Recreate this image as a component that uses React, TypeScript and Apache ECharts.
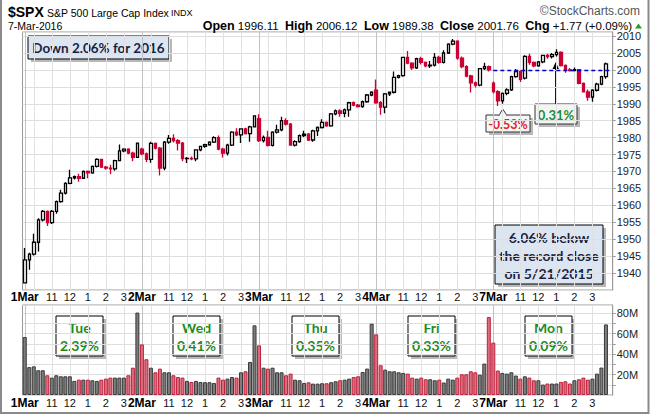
import React, { useEffect, useRef } from 'react';
import * as echarts from 'echarts';

// ---------- data ----------
const dayLabels = ['1Mar', '2Mar', '3Mar', '4Mar', '7Mar'];
const barTimes = ['9:30', '9:45', '10:00', '10:15', '10:30', '10:45', '11:00', '11:15', '11:30', '11:45', '12:00', '12:15', '12:30', '12:45', '13:00', '13:15', '13:30', '13:45', '14:00', '14:15', '14:30', '14:45', '15:00', '15:15', '15:30', '15:45'];
const hourTickLabels: Record<string, string> = { '11:00': '11', '12:00': '12', '13:00': '1', '14:00': '2', '15:00': '3' };
const gridTimes = ['9:30', '10:00', '11:00', '12:00', '13:00', '14:00', '15:00'];

// 15-minute bars: [open, high, low, close]
const mar1 = [
  [1937.09, 1947.4, 1937.09, 1943.9], [1943.9, 1946.0, 1941.0, 1945.6], [1945.6, 1951.6, 1945.2, 1949.1], [1949.1, 1956.2, 1946.4, 1955.7],
  [1955.7, 1958.6, 1955.2, 1958.2], [1958.2, 1958.5, 1953.9, 1954.9], [1954.9, 1958.6, 1954.5, 1958.2], [1958.2, 1961.4, 1957.5, 1961.1],
  [1961.1, 1964.6, 1960.8, 1963.6], [1963.6, 1966.8, 1963.2, 1966.5], [1966.5, 1970.5, 1966.2, 1968.1], [1968.1, 1968.8, 1967.6, 1968.5],
  [1968.5, 1969.3, 1967.0, 1968.0], [1968.0, 1970.3, 1967.8, 1970.0], [1970.0, 1970.3, 1968.0, 1969.6], [1969.6, 1971.8, 1969.3, 1971.5],
  [1971.5, 1973.9, 1971.2, 1973.6], [1973.6, 1973.8, 1971.0, 1971.3], [1971.3, 1971.6, 1970.5, 1971.0], [1971.0, 1972.0, 1969.2, 1970.8],
  [1970.8, 1973.5, 1970.2, 1973.2], [1973.2, 1978.0, 1973.0, 1976.1], [1976.1, 1976.9, 1975.7, 1976.6], [1976.6, 1976.9, 1975.1, 1975.4],
  [1975.4, 1975.8, 1973.0, 1974.2], [1974.2, 1978.35, 1974.0, 1978.35],
];
const mar2 = [
  [1976.6, 1977.0, 1974.8, 1975.2], [1975.2, 1975.6, 1972.8, 1973.6], [1973.6, 1978.8, 1972.6, 1978.3], [1978.3, 1978.6, 1976.5, 1976.9],
  [1976.9, 1977.2, 1968.8, 1971.0], [1971.0, 1979.0, 1970.4, 1978.7], [1978.7, 1980.8, 1978.2, 1979.8], [1979.8, 1981.0, 1978.6, 1979.1],
  [1979.1, 1979.6, 1976.2, 1978.4], [1978.4, 1978.7, 1973.0, 1973.8], [1973.8, 1974.3, 1972.5, 1973.9], [1973.9, 1974.4, 1973.3, 1973.7],
  [1973.7, 1976.6, 1973.0, 1976.4], [1976.4, 1977.5, 1976.0, 1977.4], [1977.4, 1978.2, 1977.0, 1977.9], [1977.9, 1978.9, 1977.6, 1978.7],
  [1978.7, 1980.4, 1978.4, 1980.0], [1980.0, 1980.6, 1976.3, 1976.6], [1976.6, 1977.0, 1974.1, 1975.4], [1975.4, 1978.2, 1974.7, 1977.8],
  [1977.8, 1981.9, 1977.5, 1981.6], [1981.6, 1982.8, 1980.5, 1980.8], [1980.8, 1982.8, 1978.4, 1982.6], [1982.6, 1982.9, 1980.9, 1981.2],
  [1981.2, 1983.5, 1978.8, 1983.2], [1983.2, 1986.51, 1983.0, 1986.45],
];
const mar3 = [
  [1985.6, 1986.9, 1978.7, 1979.1], [1979.1, 1980.6, 1978.6, 1980.1], [1980.1, 1982.0, 1977.37, 1977.7], [1977.7, 1981.9, 1977.4, 1981.6],
  [1981.6, 1983.8, 1981.2, 1982.3], [1982.3, 1986.2, 1981.9, 1985.0], [1985.0, 1985.7, 1983.6, 1984.0], [1984.0, 1984.3, 1977.6, 1977.8],
  [1977.8, 1979.2, 1977.4, 1978.8], [1978.8, 1980.9, 1978.5, 1980.6], [1980.6, 1982.0, 1980.2, 1981.0], [1981.0, 1981.4, 1979.0, 1979.3],
  [1979.3, 1982.3, 1978.8, 1982.0], [1982.0, 1983.3, 1980.5, 1983.0], [1983.0, 1985.4, 1982.7, 1984.5], [1984.5, 1984.8, 1983.2, 1983.5],
  [1983.5, 1987.3, 1983.2, 1987.0], [1987.0, 1988.3, 1986.6, 1987.9], [1987.9, 1988.4, 1986.2, 1987.2], [1987.2, 1988.6, 1986.0, 1988.2],
  [1988.2, 1990.6, 1986.2, 1990.3], [1990.3, 1990.7, 1989.3, 1989.6], [1989.6, 1989.9, 1988.9, 1989.2], [1989.2, 1991.0, 1988.8, 1990.6],
  [1990.6, 1992.9, 1990.3, 1992.6], [1992.6, 1993.69, 1992.2, 1993.4],
];
const mar4 = [
  [1994.01, 1997.2, 1990.0, 1990.3], [1990.3, 1990.8, 1986.77, 1989.0], [1989.0, 1993.2, 1987.2, 1992.9], [1992.9, 1993.6, 1992.3, 1993.4],
  [1993.4, 1999.5, 1993.0, 1997.8], [1997.8, 1998.6, 1997.5, 1998.3], [1998.3, 2003.9, 1998.0, 2003.7], [2003.7, 2005.6, 2001.7, 2002.0],
  [2002.0, 2002.3, 2000.0, 2000.6], [2000.6, 2003.6, 2000.3, 2003.3], [2003.3, 2003.9, 2001.6, 2002.2], [2002.2, 2002.5, 2000.8, 2001.2],
  [2001.2, 2002.6, 2000.6, 2001.4], [2001.4, 2005.0, 2001.0, 2003.7], [2003.7, 2004.2, 2001.8, 2002.2], [2002.2, 2005.8, 2001.9, 2005.0],
  [2005.0, 2007.9, 2004.7, 2007.6], [2007.6, 2009.13, 2007.3, 2008.5], [2008.5, 2008.8, 2003.0, 2003.5], [2003.5, 2004.0, 2000.5, 2001.0],
  [2001.0, 2001.4, 1997.8, 1998.2], [1998.2, 1998.6, 1993.3, 1996.2], [1996.2, 1996.6, 1994.8, 1995.5], [1995.5, 2000.6, 1995.2, 2000.4],
  [2000.4, 2002.1, 2000.0, 2001.0], [2001.0, 2001.3, 1999.5, 1999.99],
];
const mar7 = [
  [1996.11, 1996.6, 1993.0, 1993.6], [1993.6, 1994.0, 1989.38, 1990.9], [1990.9, 1993.3, 1990.0, 1993.1], [1993.1, 1994.6, 1992.5, 1994.1],
  [1994.1, 1998.3, 1993.8, 1998.0], [1998.0, 2000.3, 1997.7, 1999.5], [1999.5, 1999.9, 1996.4, 1997.2], [1997.6, 2004.3, 1997.2, 2004.0],
  [2004.0, 2004.8, 2001.5, 2002.2], [2002.2, 2002.5, 2000.8, 2001.2], [2001.2, 2002.6, 2000.9, 2002.4], [2002.4, 2004.5, 2002.0, 2004.3],
  [2004.3, 2004.8, 2003.3, 2003.9], [2003.9, 2005.0, 2003.4, 2004.5], [2004.5, 2006.12, 2004.0, 2005.2], [2005.2, 2005.5, 2001.0, 2001.3],
  [2001.3, 2001.6, 1999.2, 2000.0], [2000.0, 2000.6, 1999.5, 1999.8], [1999.8, 2000.7, 1999.6, 2000.1], [2000.1, 2000.3, 1995.8, 1996.0],
  [1996.0, 1996.3, 1993.3, 1993.5], [1993.5, 1994.2, 1990.9, 1992.0], [1992.0, 1994.3, 1990.6, 1994.0], [1994.0, 1996.2, 1993.6, 1995.8],
  [1995.8, 1998.3, 1995.5, 1998.0], [1998.0, 2002.2, 1997.4, 2001.76],
];

// volume in millions per 15-minute bar
const volMar1 = [56.7, 27.3, 28.0, 24.2, 24.2, 19.3, 17.0, 19.3, 18.3, 18.3, 18.3, 13.8, 15.0, 15.0, 15.0, 14.4, 13.8, 15.0, 16.0, 17.0, 17.0, 17.0, 17.0, 19.3, 26.7, 80.6];
const volMar2 = [49.5, 35.0, 26.7, 22.2, 25.8, 22.2, 22.2, 19.3, 17.6, 17.0, 13.8, 12.7, 13.8, 12.7, 12.5, 12.5, 11.8, 17.0, 15.0, 16.0, 17.6, 17.0, 22.2, 23.2, 32.3, 68.1];
const volMar3 = [48.5, 26.7, 25.8, 26.7, 22.2, 22.2, 19.3, 20.9, 15.0, 14.4, 11.8, 12.4, 11.1, 11.1, 11.5, 11.5, 12.5, 13.4, 14.4, 15.0, 16.0, 17.6, 18.3, 22.5, 25.8, 69.7];
const volMar4 = [59.3, 29.1, 24.8, 23.2, 23.2, 22.2, 21.6, 20.9, 17.0, 16.0, 17.0, 15.4, 15.4, 14.4, 15.0, 12.2, 16.0, 15.0, 17.0, 20.3, 20.3, 23.2, 22.2, 19.9, 30.7, 76.2];
const volMar7 = [51.2, 23.9, 21.6, 20.9, 22.2, 19.0, 16.0, 18.3, 17.0, 14.4, 14.4, 10.2, 11.2, 11.2, 11.2, 12.8, 13.4, 11.2, 14.4, 15.4, 17.0, 15.0, 16.0, 20.9, 26.8, 69.0];

const prevCloseLevel = 2000;
const dayNames = ['Tue', 'Wed', 'Thu', 'Fri', 'Mon'];
const dayChanges = ['2.39%', '0.41%', '0.35%', '0.33%', '0.09%'];
const priceMin = 1935;
const priceMax = 2011.2;
const volMax = 88;

// ---------- build ----------
const dayBars = [mar1, mar2, mar3, mar4, mar7];
const dayVols = [volMar1, volMar2, volMar3, volMar4, volMar7];

const categories: string[] = [];
const candleData: number[][] = [];
const volData: any[] = [];
let prevClose: number | null = null;
dayBars.forEach((bars, di) => {
  bars.forEach((b, bi) => {
    categories.push(dayLabels[di] + ' ' + barTimes[bi]);
    const [o, h, l, c] = b;
    candleData.push([o, c, l, h]);
    const up = prevClose === null ? c >= o : c >= prevClose;
    prevClose = c;
    volData.push({
      value: dayVols[di][bi],
      itemStyle: up
        ? { color: '#7d7d7d', borderColor: '#3a3a3a', borderWidth: 1 }
        : { color: '#d6707d', borderColor: '#c21f3c', borderWidth: 1 },
    });
  });
});
categories.push(' '); // right padding slot

const timeOf = (v: string) => v.split(' ')[1];
const isLabelled = (_i: number, v: string) => timeOf(v) === '9:30' || !!hourTickLabels[timeOf(v)];
const isGrid = (_i: number, v: string) => gridTimes.indexOf(timeOf(v)) >= 0;
const FONT = '"Liberation Sans", Arial, sans-serif';
const BOXFONT = 'Lato, "Open Sans", sans-serif';

const xLabel = {
  interval: isLabelled,
  formatter: (v: string) => {
    const [d, t] = v.split(' ');
    if (t === '9:30') return '{d|' + d + '}';
    return hourTickLabels[t] ? '{h|' + hourTickLabels[t] + '}' : '';
  },
  rich: {
    d: { fontFamily: FONT, fontWeight: 'bold', fontSize: 12, color: '#000' },
    h: { fontFamily: FONT, fontSize: 11, color: '#111' },
  },
};

const L = 22.5;
const R = 37.3;
const band = (650 - L - R) / categories.length;
const lineColors = ['#c2c2c2', '#e1e1e1', '#e1e1e1', '#e1e1e1', '#e1e1e1', '#e1e1e1', '#e1e1e1'];

const vGridAxis = (gridIndex: number) => ({
  type: 'category', gridIndex, data: categories, boundaryGap: false,
  axisLine: { show: false }, axisTick: { show: false }, axisLabel: { show: false },
  splitLine: { show: true, interval: isGrid, lineStyle: { color: lineColors, width: 1 } },
});

const txt = (x: number, y: number, text: string, font: string, fill: string) => ({
  type: 'text', x, y, style: { text, font, fill, align: 'center', verticalAlign: 'middle' },
});
// box with a flat offset shadow
const box = (w: number, h: number, fill: string, stroke = '#000') => [
  { type: 'rect', shape: { x: 3, y: 3, width: w, height: h }, style: { fill: 'rgba(0,0,0,0.28)' } },
  { type: 'rect', shape: { x: 0, y: 0, width: w, height: h }, style: { fill, stroke, lineWidth: 1 } },
];

const dayBoxX = [56, 173, 292, 408, 525];
const dayBoxes = dayNames.map((n, i) => ({
  type: 'group', x: dayBoxX[i], y: 316, z: 100,
  children: [
    ...box(47, 40, '#ffffff'),
    txt(23.5, 11.5, n, 'bold 14px ' + BOXFONT, '#1f8a1f'),
    txt(23.5, 29, dayChanges[i], 'bold 14px ' + BOXFONT, '#1f8a1f'),
  ],
}));

const option: any = {
  animation: false,
  backgroundColor: '#ffffff',
  grid: [
    { left: L, right: R, top: 32, height: 258, show: true, borderColor: '#9a9a9a', borderWidth: 1 },
    { left: L, right: R, top: 305, height: 90, show: true, borderColor: '#9a9a9a', borderWidth: 1 },
    { left: L + band / 2, right: R + band / 2, top: 32, height: 258 },
    { left: L + band / 2, right: R + band / 2, top: 305, height: 90 },
  ],
  xAxis: [
    { type: 'category', gridIndex: 0, data: categories, boundaryGap: true, axisLine: { show: false }, axisTick: { show: false }, splitLine: { show: false }, axisLabel: { ...xLabel, margin: 1 } },
    { type: 'category', gridIndex: 1, data: categories, boundaryGap: true, axisLine: { show: false }, axisTick: { show: false }, splitLine: { show: false }, axisLabel: { ...xLabel, margin: 2 } },
    vGridAxis(2),
    vGridAxis(3),
  ],
  yAxis: [
    {
      type: 'value', gridIndex: 0, position: 'right', min: priceMin, max: priceMax, interval: 5,
      axisLine: { show: true, lineStyle: { color: '#9a9a9a' } },
      axisTick: { show: true, length: 3, lineStyle: { color: '#9a9a9a' } },
      axisLabel: { margin: 4, color: '#222', fontSize: 11, fontFamily: FONT, showMinLabel: false, showMaxLabel: false, formatter: (v: number) => (v >= 1940 && v % 5 === 0 ? String(v) : '') },
      splitLine: { show: true, lineStyle: { color: '#dedede' } },
    },
    {
      type: 'value', gridIndex: 1, position: 'right', min: 0, max: volMax, interval: 10,
      axisLine: { show: true, lineStyle: { color: '#9a9a9a' } },
      axisTick: { show: true, length: 3, lineStyle: { color: '#9a9a9a' } },
      axisLabel: { margin: 4, color: '#222', fontSize: 11, fontFamily: FONT, showMinLabel: false, showMaxLabel: false, formatter: (v: number) => (v > 0 && v % 20 === 0 ? v + 'M' : '') },
      splitLine: { show: true, lineStyle: { color: '#dedede' } },
    },
    { type: 'value', gridIndex: 2, show: false },
    { type: 'value', gridIndex: 3, show: false },
  ],
  series: [
    {
      type: 'candlestick', xAxisIndex: 0, yAxisIndex: 0, data: candleData, barWidth: 3,
      itemStyle: { color: '#ffffff', color0: '#cc0033', borderColor: '#000000', borderColor0: '#cc0033', borderWidth: 1.3 },
      markLine: {
        silent: true, symbol: ['none', 'none'], label: { show: false },
        lineStyle: { color: '#0000cc', type: [4, 3], width: 1.3 },
        data: [[{ coord: [categories[104], prevCloseLevel] }, { coord: [categories[categories.length - 1], prevCloseLevel] }]],
      },
    },
    { type: 'bar', xAxisIndex: 1, yAxisIndex: 1, data: volData, barWidth: 4 },
  ],
  graphic: [
    { type: 'polyline', z: 100, shape: { points: [[1, 0], [1, 413], [648.5, 413], [648.5, 0]] }, style: { stroke: '#8a8a8a', lineWidth: 2, fill: 'none' } },
    { type: 'text', x: 8, y: 12, z: 100, style: { text: '$SPX', font: 'bold 14px ' + FONT, fill: '#000', verticalAlign: 'middle' } },
    { type: 'text', x: 47, y: 12.5, z: 100, style: { text: 'S&P 500 Large Cap Index', font: '10.5px ' + FONT, fill: '#000', verticalAlign: 'middle' } },
    { type: 'text', x: 171, y: 13, z: 100, style: { text: 'INDX', font: '9px ' + FONT, fill: '#000', verticalAlign: 'middle' } },
    { type: 'text', x: 8, y: 26, z: 100, style: { text: '7-Mar-2016', font: '10.5px ' + FONT, fill: '#000', verticalAlign: 'middle' } },
    { type: 'text', x: 640, y: 11, z: 100, style: { text: '©StockCharts.com', font: '12px ' + FONT, fill: '#555', align: 'right', verticalAlign: 'middle' } },
    {
      type: 'text', x: 632, y: 26, z: 100,
      style: {
        text: '{b|Open} 1996.11  {b|High} 2006.12  {b|Low} 1989.38  {b|Close} 2001.76  {b|Chg} +1.77 (+0.09%)',
        font: '11.5px ' + FONT, fill: '#000', align: 'right', verticalAlign: 'middle',
        rich: { b: { fontFamily: FONT, fontWeight: 'bold', fontSize: 12.5, fill: '#000' } },
      },
    },
    { type: 'polygon', z: 100, shape: { points: [[635, 28.5], [638.5, 23.5], [642, 28.5]] }, style: { fill: '#2a9d2a' } },
    {
      type: 'group', x: 28, y: 36, z: 100,
      children: [
        ...box(141, 23, '#dce6f2'),
        txt(70.5, 11.5, 'Down 2.06% for 2016', 'bold 13.5px ' + BOXFONT, '#1c1f3c'),
      ],
    },
    {
      type: 'group', x: 495, y: 225, z: 100,
      children: [
        ...box(108, 59, '#dce6f2'),
        txt(54, 12, '6.06% below', 'bold 14px ' + BOXFONT, '#1c1f3c'),
        txt(54, 30, 'the record close', 'bold 14px ' + BOXFONT, '#1c1f3c'),
        txt(54, 48, 'on 5/21/2015', 'bold 14px ' + BOXFONT, '#1c1f3c'),
      ],
    },
    {
      type: 'group', x: 486, y: 115, z: 100,
      children: [
        ...box(44, 17, '#f6f6f6', '#333'),
        { type: 'polygon', shape: { points: [[13, 0.5], [16.7, -6], [21, 0.5]] }, style: { fill: '#f6f6f6', stroke: '#333', lineWidth: 1 } },
        { type: 'rect', shape: { x: 13.5, y: -0.5, width: 7, height: 2 }, style: { fill: '#f6f6f6' } },
        txt(22, 9, '-0.53%', 'bold 12.5px ' + BOXFONT, '#e3202c'),
      ],
    },
    {
      type: 'group', x: 535, y: 104, z: 100,
      children: [
        { type: 'line', shape: { x1: 20.7, y1: 0, x2: 20.7, y2: -37 }, style: { stroke: '#000', lineWidth: 1.2 } },
        { type: 'polygon', shape: { points: [[17.5, -35], [20.7, -42], [24, -35]] }, style: { fill: '#000' } },
        ...box(42, 20, '#f4f4f4', '#333'),
        txt(21, 10.5, '0.31%', 'bold 13px ' + BOXFONT, '#1e9030'),
      ],
    },
    ...dayBoxes,
  ],
};

export default function App() {
  const ref = useRef<HTMLDivElement>(null);
  useEffect(() => {
    const chart = echarts.init(ref.current!, null, { renderer: 'svg' });
    chart.setOption(option);
    return () => chart.dispose();
  }, []);
  return <div ref={ref} style={{ position: 'fixed', left: 0, top: 0, width: 650, height: 415 }} />;
}
